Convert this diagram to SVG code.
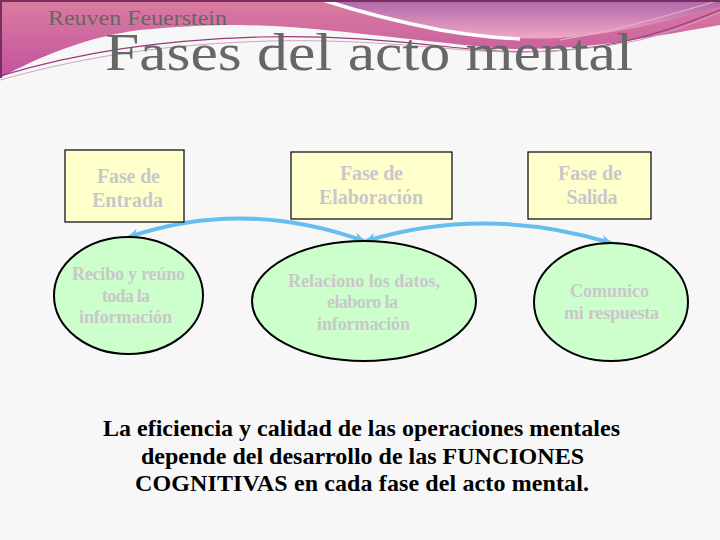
<svg xmlns="http://www.w3.org/2000/svg" width="720" height="540" viewBox="0 0 720 540">
<defs>
<linearGradient id="gA" x1="0" y1="0" x2="0" y2="1">
<stop offset="0" stop-color="#DA7D9F"/>
<stop offset="1" stop-color="#C2529F"/>
</linearGradient>
<linearGradient id="gB" x1="0" y1="0" x2="0" y2="1">
<stop offset="0" stop-color="#AE66A9"/>
<stop offset="1" stop-color="#F2A8C4"/>
</linearGradient>
<marker id="ah" viewBox="0 0 10 10" refX="9" refY="5" markerWidth="11" markerHeight="11" markerUnits="userSpaceOnUse" orient="auto-start-reverse">
<path d="M0,0 L10,5 L0,10 L3,5 Z" fill="#66BEF0"/>
</marker>
<style>
text{font-family:Liberation Serif, Tinos, DejaVu Serif, Times New Roman, serif}
.box{fill:#FFFFCC;stroke:#000;stroke-width:1.2}
.ell{fill:#CCFFCC;stroke:#000;stroke-width:2}
.lbl{font-weight:bold;fill:#C8C8C8;text-anchor:middle}
.bx{font-size:20px}
.el{font-size:18px}
.conn{fill:none;stroke:#66BEF0;stroke-width:4;marker-start:url(#ah);marker-end:url(#ah)}
.note{font-weight:bold;font-size:24px;fill:#000;text-anchor:middle}
</style>
</defs>
<rect x="0" y="0" width="720" height="540" fill="#F7F7F7"/>
<g id="header">
<path d="M0,78 C40,56 90,36 140,30 C180,26 210,25 240,25 C300,26 350,33 400,38 C450,43 490,49 520,49 C560,49 590,46 620,42 C660,36 690,30 720,25 V0 H0 Z" fill="url(#gA)"/>
<path d="M323,0 C360,12 400,22 440,30 C480,37 520,40 560,38 C620,34 670,20 720,7 V0 Z" fill="url(#gB)"/>
<path d="M323,0 C360,12 400,22 440,30 C470,35 495,38 520,39" fill="none" stroke="#FFFFFF" stroke-width="3.5"/>
<path d="M0,76 C80,52 160,40 260,37 C340,35 400,42 460,48 C520,54 560,52 600,46 C650,38 690,22 720,10" fill="none" stroke="#9A3A7A" stroke-width="1.2"/>
<path d="M0,80 C90,55 170,44 270,41 C360,39 420,47 480,51 C540,54 590,50 640,40 C680,30 705,18 720,12" fill="none" stroke="#C8A8BC" stroke-width="1"/>
<path d="M560,40 C620,30 680,12 720,0" fill="none" stroke="#E8B4CC" stroke-width="1"/>
<line x1="0" y1="1" x2="720" y2="1" stroke="#7B2D62" stroke-width="2"/>
<line x1="1" y1="0" x2="1" y2="78" stroke="#7B2D62" stroke-width="2"/>
<text x="48" y="25" font-size="22" fill="#666666" textLength="179" lengthAdjust="spacingAndGlyphs">Reuven Feuerstein</text>
<text x="105" y="70" font-size="52" fill="#676767" textLength="528" lengthAdjust="spacingAndGlyphs">Fases del acto mental</text>
</g>
<g id="connectors">
<path class="conn" d="M129,237 Q243,198 364,241"/>
<path class="conn" d="M366,241 Q485,205 611,243"/>
</g>
<g id="box-entrada">
<rect class="box" x="65" y="150" width="119" height="72"/>
<text class="lbl bx" x="128.5" y="182.5" textLength="63">Fase de</text>
<text class="lbl bx" x="127.5" y="206.5" textLength="71">Entrada</text>
</g>
<g id="box-elaboracion">
<rect class="box" x="291" y="152" width="161" height="67"/>
<text class="lbl bx" x="371.5" y="180" textLength="63">Fase de</text>
<text class="lbl bx" x="371" y="203.5" textLength="104">Elaboración</text>
</g>
<g id="box-salida">
<rect class="box" x="528" y="152" width="123" height="67"/>
<text class="lbl bx" x="590" y="180" textLength="64">Fase de</text>
<text class="lbl bx" x="592" y="203.5" textLength="51">Salida</text>
</g>
<g id="ell-entrada">
<ellipse class="ell" cx="128.5" cy="295.5" rx="74.5" ry="58.5"/>
<text class="lbl el" x="128.5" y="280" textLength="113">Recibo y reúno</text>
<text class="lbl el" x="126" y="301.5" textLength="48">toda la</text>
<text class="lbl el" x="125.5" y="323" textLength="93">información</text>
</g>
<g id="ell-elaboracion">
<ellipse class="ell" cx="364" cy="301" rx="112" ry="60"/>
<text class="lbl el" x="364" y="286.5" textLength="152">Relaciono los datos,</text>
<text class="lbl el" x="362.5" y="308" textLength="71">elaboro la</text>
<text class="lbl el" x="363.5" y="330" textLength="93">información</text>
</g>
<g id="ell-salida">
<ellipse class="ell" cx="611" cy="302" rx="77" ry="59"/>
<text class="lbl el" x="609.5" y="297" textLength="79">Comunico</text>
<text class="lbl el" x="611.5" y="318.5" textLength="95">mi respuesta</text>
</g>
<g id="note">
<text class="note" x="361.5" y="436" textLength="517">La eficiencia y calidad de las operaciones mentales</text>
<text class="note" x="362.5" y="463.5" textLength="443">depende del desarrollo de las FUNCIONES</text>
<text class="note" x="362" y="491" textLength="454">COGNITIVAS en cada fase del acto mental.</text>
</g>
</svg>
